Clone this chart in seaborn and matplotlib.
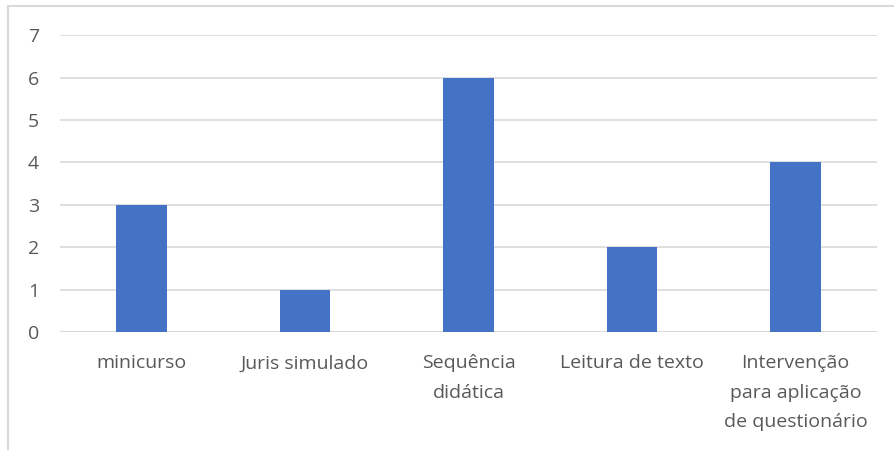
import matplotlib.pyplot as plt
import pandas as pd
import seaborn as sns
from matplotlib.patches import Rectangle

categorias = ["minicurso", "Juris simulado", "Sequência\ndidática",
              "Leitura de texto", "Intervenção\npara aplicação\nde questionário"]
valores = [3, 1, 6, 2, 4]

df = pd.DataFrame({"categoria": categorias, "valor": valores})

sns.set_theme(style="white")
plt.rcParams["font.family"] = ["Open Sans", "DejaVu Sans"]

fig = plt.figure(figsize=(8.95, 4.5), dpi=100)
ax = fig.add_axes([0.067, 0.262, 0.913, 0.66])

sns.barplot(data=df, x="categoria", y="valor", color="#4472C4",
            width=0.31, saturation=1, linewidth=0, ax=ax, zorder=3)

ax.set_ylim(0, 7)
ax.set_yticks(range(0, 8))
ax.set_xlim(-0.5, 4.5)
ax.grid(axis="y", color="#D9D9D9", linewidth=1.2, zorder=0)
for s in ax.spines.values():
    s.set_visible(False)
ax.axhline(0, color="#D9D9D9", linewidth=1.5, zorder=2)
ax.set_xlabel("")
ax.set_ylabel("")
ax.tick_params(axis="both", length=0, labelsize=14, labelcolor="#595959")
ax.tick_params(axis="y", pad=15)
ax.tick_params(axis="x", pad=16)
for lbl in ax.get_xticklabels():
    lbl.set_linespacing(1.82)

fig.patches.append(Rectangle((8 / 895, -0.1), 1.2, (450 - 6) / 450 + 0.1,
                             transform=fig.transFigure, fill=False,
                             edgecolor="#D9D9D9", linewidth=1.5))

fig.savefig("out.png", dpi=100)
